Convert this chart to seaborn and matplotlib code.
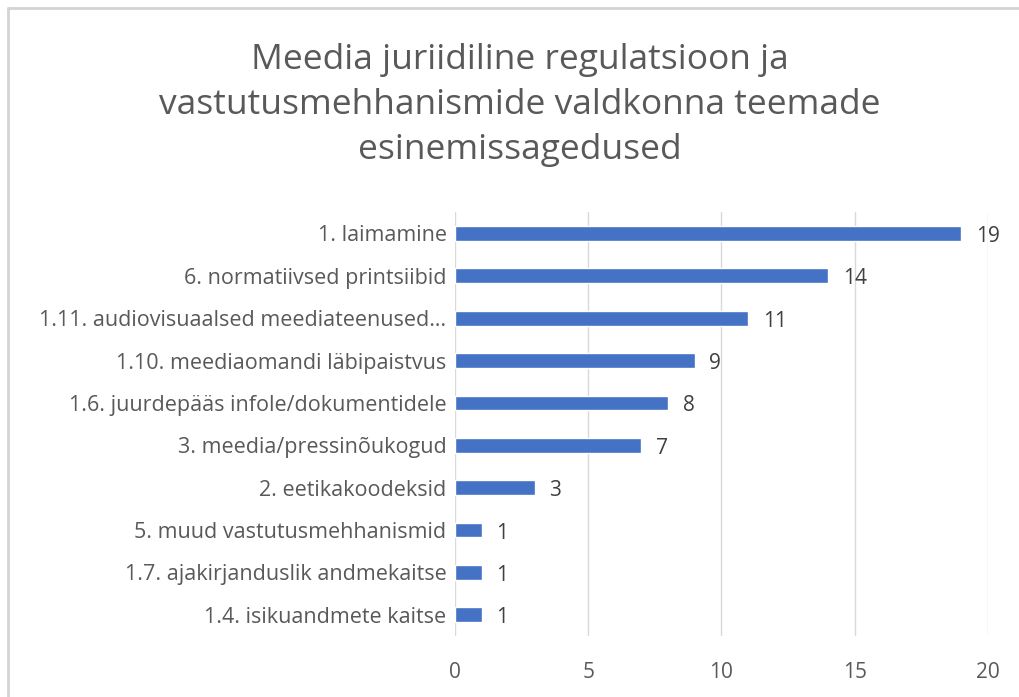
import matplotlib
matplotlib.use("Agg")
import matplotlib.pyplot as plt
import seaborn as sns
import pandas as pd
from matplotlib.lines import Line2D

# data
topics = [
    "1. laimamine",
    "6. normatiivsed printsiibid",
    "1.11. audiovisuaalsed meediateenused…",
    "1.10. meediaomandi läbipaistvus",
    "1.6. juurdepääs infole/dokumentidele",
    "3. meedia/pressinõukogud",
    "2. eetikakoodeksid",
    "5. muud vastutusmehhanismid",
    "1.7. ajakirjanduslik andmekaitse",
    "1.4. isikuandmete kaitse",
]
counts = [19, 14, 11, 9, 8, 7, 3, 1, 1, 1]
xticks = [0, 5, 10, 15, 20]

df = pd.DataFrame({"teema": topics, "arv": counts})

sns.set_theme(style="white")
plt.rcParams["font.family"] = ["Open Sans", "DejaVu Sans"]

fig = plt.figure(figsize=(10.2, 6.97), dpi=100)
ax = fig.add_axes([0.446, 0.0875, 0.5226, 0.608])

sns.barplot(data=df, x="arv", y="teema", orient="h", color="#4472C4",
            saturation=1, width=0.35, ax=ax)

# value labels, nudged a little down so the digits sit on the bar centre
for i, v in enumerate(counts):
    ax.text(v + 0.55, i + 0.07, str(v), va="center", ha="left", fontsize=15, color="#404040")

ax.set_xlim(0, 20)
ax.set_xticks(xticks)
ax.xaxis.grid(True, color="#d9d9d9", linewidth=1)
ax.set_axisbelow(True)
for s in ax.spines.values():
    s.set_visible(False)
ax.set_xlabel("")
ax.set_ylabel("")
ax.tick_params(axis="x", labelsize=15, labelcolor="#595959", length=0, pad=19)
ax.tick_params(axis="y", labelsize=15.5, labelcolor="#595959", length=0, pad=6)

fig.text(0.51, 0.849, "Meedia juriidiline regulatsioon ja\nvastutusmehhanismide valdkonna teemade\nesinemissagedused",
         ha="center", va="center", fontsize=25.5, color="#595959", linespacing=1.42)

# partial frame (top and left edges only, as in the cropped reference)
fig.add_artist(Line2D([0.008, 1.0], [0.988, 0.988], transform=fig.transFigure,
                      color="#d4d4d4", linewidth=2))
fig.add_artist(Line2D([0.008, 0.008], [0.0, 0.988], transform=fig.transFigure,
                      color="#d4d4d4", linewidth=2))

fig.savefig("out.png", dpi=100)
